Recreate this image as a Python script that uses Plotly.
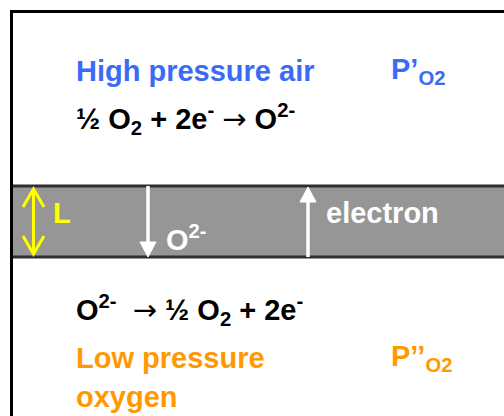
import plotly.graph_objects as go

W, H = 504, 416
FONT = "Liberation Sans, Arial, sans-serif"
SIZE = 29
ARROW = "<span style='font-family:DejaVu Sans;font-weight:normal'>→</span>"

# Labels (text, x-left, baseline y, colour)
labels = [
    ("High pressure air", 77, 81, "#3A6BF5"),
    ("P’<sub>O2</sub>", 392, 81, "#3A6BF5"),
    ("½ O<sub>2</sub> + 2e<sup>-</sup> " + ARROW + " O<sup>2-</sup>", 77, 129, "#000000"),
    ("L", 54, 223, "#FFFF00"),
    ("O<sup>2-</sup>", 167, 248, "#FFFFFF"),
    ("electron", 327, 223, "#FFFFFF"),
    ("O<sup>2-</sup>  " + ARROW + " ½ O<sub>2</sub> + 2e<sup>-</sup>", 77, 320, "#000000"),
    ("Low pressure", 77, 368, "#FF9900"),
    ("P’’<sub>O2</sub>", 392, 368, "#FF9900"),
    ("oxygen", 77, 407, "#FF9900"),
]

band_top, band_bottom = 186, 257
frame_left, frame_top = 11.5, 11.5

fig = go.Figure()
fig.add_trace(go.Scatter(x=[0, W], y=[0, H], mode="markers", marker=dict(opacity=0), hoverinfo="skip", showlegend=False))

shapes = []
# grey membrane band
shapes.append(dict(type="rect", x0=frame_left, x1=W + 20, y0=band_top, y1=band_bottom,
                   fillcolor="#969696", line=dict(color="#2E2E2E", width=3), layer="below"))
# outer frame
shapes.append(dict(type="rect", x0=frame_left, x1=W + 20, y0=frame_top, y1=H + 20,
                   line=dict(color="#000000", width=3)))
# down arrow (O2-)
shapes.append(dict(type="line", x0=148, x1=148, y0=band_top, y1=244, line=dict(color="white", width=3.5)))
shapes.append(dict(type="path", path="M 140 242 L 156 242 L 148 257 Z", fillcolor="white", line=dict(color="white", width=1)))
# up arrow (electron)
shapes.append(dict(type="line", x0=308, x1=308, y0=200, y1=band_bottom, line=dict(color="white", width=3.5)))
shapes.append(dict(type="path", path="M 300 202 L 316 202 L 308 187 Z", fillcolor="white", line=dict(color="white", width=1)))
# yellow double arrow (L)
shapes.append(dict(type="line", x0=33.5, x1=33.5, y0=189, y1=254, line=dict(color="#FFFF00", width=3)))
shapes.append(dict(type="path", path="M 23 207 L 33.5 189 L 44 207", line=dict(color="#FFFF00", width=3)))
shapes.append(dict(type="path", path="M 23 236 L 33.5 254 L 44 236", line=dict(color="#FFFF00", width=3)))

annotations = []
for text, x, base, col in labels:
    annotations.append(dict(text=text, x=x - 3, y=base - 10, xref="x", yref="y",
                            xanchor="left", yanchor="middle", showarrow=False,
                            font=dict(family=FONT, size=SIZE, color=col, weight=700)))

fig.update_layout(
    width=W, height=H, margin=dict(l=0, r=0, t=0, b=0),
    paper_bgcolor="white", plot_bgcolor="white",
    xaxis=dict(range=[0, W], visible=False, fixedrange=True),
    yaxis=dict(range=[H, 0], visible=False, fixedrange=True),
    shapes=shapes, annotations=annotations, showlegend=False,
)
fig.write_html("out.html", config={"displayModeBar": False},
               post_script="document.body.style.margin='0';document.body.style.overflow='hidden';")
